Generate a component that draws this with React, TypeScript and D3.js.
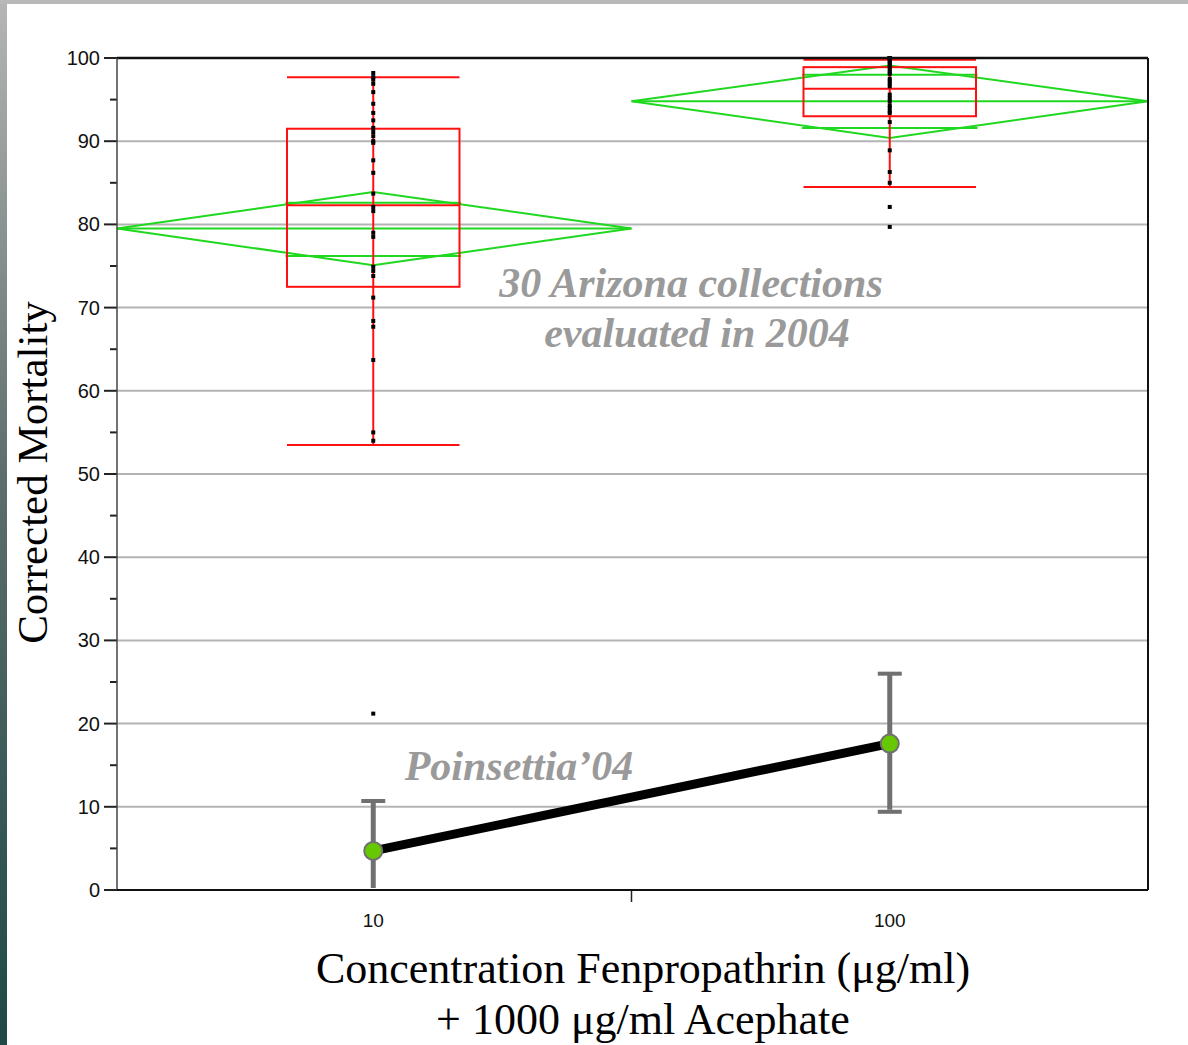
import React, { useEffect, useRef } from 'react';
import * as d3 from 'd3';

// concentration groups (fenpropathrin ug/ml)
const groups = ['10', '100'];
const yTicks = [0, 10, 20, 30, 40, 50, 60, 70, 80, 90, 100];
const yMinorTicks = [5, 15, 25, 35, 45, 55, 65, 75, 85, 95];

// 30 Arizona collections, corrected mortality
const dots10 = [98.2, 97.7, 97.4, 96.9, 95.9, 94.5, 93.4, 92.5, 91.6, 91.1, 90.6, 90.0, 89.8, 87.7, 86.2,
  83.7, 82.1, 81.6, 79.0, 78.5, 74.9, 74.4, 73.8, 71.2, 68.4, 67.7, 63.7, 55.0, 54.0, 21.2];
const dots100 = [100, 100, 100, 100, 100, 99.8, 99.6, 99.4, 99.2, 98.9, 98.6, 98.3, 98.1, 97.5, 97.2,
  96.9, 96.6, 95.6, 95.2, 94.8, 94.3, 94.0, 93.6, 93.4, 92.3, 88.9, 86.3, 85.0, 82.1, 79.7];

// box plot summary
const boxQ1 = [72.5, 93.0];
const boxMedian = [82.3, 96.3];
const boxQ3 = [91.5, 98.9];
const whiskerLow = [53.5, 84.5];
const whiskerHigh = [97.7, 99.8];

// means diamonds
const meanVals = [79.5, 94.8];
const ciLow = [75.1, 90.4];
const ciHigh = [83.9, 99.1];
const overlapLow = [76.2, 91.6];
const overlapHigh = [82.6, 98.0];

// Poinsettia'04 reference line
const poinMean = [4.7, 17.6];
const poinLow = [0, 9.4];
const poinHigh = [10.7, 26.0];

const W = 1188;
const H = 1045;

const App = () => {
  const svgRef = useRef<SVGSVGElement>(null);

  useEffect(() => {
    const svg = d3.select(svgRef.current);
    svg.selectAll('*').remove();

    const left = 117, right = 1148, top = 58, bottom = 890;

    const x = d3.scaleBand<string>().domain(groups).range([left - 2, right]).padding(0);
    const y = d3.scaleLinear().domain([0, 100]).range([bottom, top]);
    const bw = x.bandwidth();
    const cx = (i: number) => (x(groups[i]) as number) + bw / 2;

    // page decoration
    const defs = svg.append('defs');
    const grad = defs.append('linearGradient').attr('id', 'edge').attr('x1', 0).attr('x2', 0).attr('y1', 0).attr('y2', 1);
    grad.append('stop').attr('offset', '0%').attr('stop-color', '#b4b6b5');
    grad.append('stop').attr('offset', '45%').attr('stop-color', '#5e6e6c');
    grad.append('stop').attr('offset', '100%').attr('stop-color', '#1d4946');
    svg.append('rect').attr('width', W).attr('height', H).attr('fill', '#fff');
    svg.append('rect').attr('x', 0).attr('y', 0).attr('width', 7).attr('height', H).attr('fill', 'url(#edge)');
    svg.append('rect').attr('x', 0).attr('y', 0).attr('width', W).attr('height', 4).attr('fill', '#b7b8b7');

    // gridlines
    svg.append('g')
      .selectAll('line')
      .data(yTicks.filter(d => d > 0 && d < 100))
      .enter().append('line')
      .attr('x1', left).attr('x2', right)
      .attr('y1', d => y(d)).attr('y2', d => y(d))
      .attr('stroke', '#b4b4b4').attr('stroke-width', 2);

    // y axis ticks
    const ya = svg.append('g');
    ya.selectAll('.maj').data(yTicks).enter().append('line')
      .attr('x1', left - 13).attr('x2', left).attr('y1', d => y(d)).attr('y2', d => y(d))
      .attr('stroke', '#222').attr('stroke-width', 2);
    ya.selectAll('.min').data(yMinorTicks).enter().append('line')
      .attr('x1', left - 7).attr('x2', left).attr('y1', d => y(d)).attr('y2', d => y(d))
      .attr('stroke', '#222').attr('stroke-width', 2);
    ya.selectAll('text').data(yTicks).enter().append('text')
      .attr('x', left - 17).attr('y', d => y(d) + 7)
      .attr('text-anchor', 'end')
      .attr('font-family', 'Liberation Sans, Arial, sans-serif')
      .attr('font-size', 20)
      .attr('fill', '#111')
      .text(d => d);

    // x axis ticks / labels
    const xa = svg.append('g');
    xa.selectAll('line').data(groups.slice(1)).enter().append('line')
      .attr('x1', d => x(d) as number).attr('x2', d => x(d) as number)
      .attr('y1', bottom).attr('y2', bottom + 12)
      .attr('stroke', '#222').attr('stroke-width', 1.5);
    xa.selectAll('text').data(groups).enter().append('text')
      .attr('x', (d, i) => cx(i)).attr('y', bottom + 37)
      .attr('text-anchor', 'middle')
      .attr('font-family', 'Liberation Sans, Arial, sans-serif')
      .attr('font-size', 19)
      .attr('fill', '#111')
      .text(d => d);

    // means diamonds
    const green = '#1fd81f';
    const dg = svg.append('g').attr('fill', 'none').attr('stroke', green).attr('stroke-width', 2);
    groups.forEach((g, i) => {
      const x0 = Math.max(x(g) as number, left);
      const x1 = (x(g) as number) + bw;
      const c = cx(i);
      dg.append('path')
        .attr('d', `M${x0},${y(meanVals[i])}L${c},${y(ciHigh[i])}L${x1},${y(meanVals[i])}L${c},${y(ciLow[i])}Z`);
      dg.append('line').attr('x1', x0).attr('x2', x1).attr('y1', y(meanVals[i])).attr('y2', y(meanVals[i]));
      [overlapLow[i], overlapHigh[i]].forEach(v => {
        dg.append('line').attr('x1', c - bw * 0.17).attr('x2', c + bw * 0.17).attr('y1', y(v)).attr('y2', y(v));
      });
    });

    // box plots
    const bg = svg.append('g').attr('fill', 'none').attr('stroke', '#ff1010').attr('stroke-width', 2);
    const boxW = bw * 0.334;
    groups.forEach((g, i) => {
      const c = cx(i);
      bg.append('line').attr('x1', c).attr('x2', c).attr('y1', y(whiskerHigh[i])).attr('y2', y(whiskerLow[i]));
      bg.append('rect')
        .attr('x', c - boxW / 2).attr('width', boxW)
        .attr('y', y(boxQ3[i])).attr('height', y(boxQ1[i]) - y(boxQ3[i]))
        .attr('fill', 'none');
      [boxMedian[i], whiskerLow[i], whiskerHigh[i]].forEach(v => {
        bg.append('line').attr('x1', c - boxW / 2).attr('x2', c + boxW / 2).attr('y1', y(v)).attr('y2', y(v));
      });
    });

    // data points
    [dots10, dots100].forEach((arr, i) => {
      svg.append('g').selectAll('rect').data(arr).enter().append('rect')
        .attr('x', cx(i) - 2).attr('y', d => y(d) - 2)
        .attr('width', 4).attr('height', 4)
        .attr('fill', '#000');
    });

    // frame
    svg.append('line').attr('x1', left).attr('x2', right).attr('y1', top).attr('y2', top).attr('stroke', '#111').attr('stroke-width', 2.5);
    svg.append('line').attr('x1', right).attr('x2', right).attr('y1', top).attr('y2', bottom).attr('stroke', '#111').attr('stroke-width', 2);
    svg.append('line').attr('x1', left).attr('x2', left).attr('y1', top).attr('y2', bottom).attr('stroke', '#444').attr('stroke-width', 1.5);
    svg.append('line').attr('x1', left).attr('x2', right).attr('y1', bottom).attr('y2', bottom).attr('stroke', '#111').attr('stroke-width', 2);

    // Poinsettia line with error bars
    const pg = svg.append('g');
    groups.forEach((g, i) => {
      const c = cx(i);
      pg.append('line').attr('x1', c).attr('x2', c).attr('y1', y(poinHigh[i])).attr('y2', y(poinLow[i]) - 2)
        .attr('stroke', '#707070').attr('stroke-width', 5);
      pg.append('line').attr('x1', c - 12).attr('x2', c + 12).attr('y1', y(poinHigh[i])).attr('y2', y(poinHigh[i]))
        .attr('stroke', '#707070').attr('stroke-width', 4);
      if (poinLow[i] > 0) {
        pg.append('line').attr('x1', c - 12).attr('x2', c + 12).attr('y1', y(poinLow[i])).attr('y2', y(poinLow[i]))
          .attr('stroke', '#707070').attr('stroke-width', 4);
      }
    });
    const line = d3.line<number>().x((d, i) => cx(i)).y(d => y(d));
    pg.append('path').datum(poinMean).attr('d', line).attr('fill', 'none').attr('stroke', '#000').attr('stroke-width', 9);
    pg.selectAll('circle').data(poinMean).enter().append('circle')
      .attr('cx', (d, i) => cx(i)).attr('cy', d => y(d)).attr('r', 9)
      .attr('fill', '#66c800').attr('stroke', '#707070').attr('stroke-width', 2);

    // annotations
    const ann = svg.append('g')
      .attr('font-family', 'Liberation Serif, Times New Roman, serif')
      .attr('font-style', 'italic').attr('font-weight', 'bold')
      .attr('font-size', 42).attr('fill', '#9a9a9a').attr('text-anchor', 'middle');
    ann.append('text').attr('x', 691).attr('y', 297).text('30 Arizona collections');
    ann.append('text').attr('x', 697).attr('y', 347).text('evaluated in 2004');
    ann.append('text').attr('x', 519).attr('y', 780).text('Poinsettia\u201904');

    // axis titles
    svg.append('text')
      .attr('transform', `translate(47,${(300 + 645) / 2}) rotate(-90)`)
      .attr('text-anchor', 'middle')
      .attr('font-family', 'Liberation Serif, Times New Roman, serif')
      .attr('font-size', 43).attr('fill', '#000')
      .text('Corrected Mortality');
    const xt = svg.append('g')
      .attr('font-family', 'Liberation Serif, Times New Roman, serif')
      .attr('font-size', 44).attr('fill', '#000').attr('text-anchor', 'middle');
    xt.append('text').attr('x', 643).attr('y', 983).text('Concentration Fenpropathrin (\u03bcg/ml)');
    xt.append('text').attr('x', 643).attr('y', 1034).text('+ 1000 \u03bcg/ml Acephate');
  }, []);

  return (
    <svg ref={svgRef} width={W} height={H}
      style={{ position: 'absolute', left: 0, top: 0, display: 'block' }} />
  );
};

export default App;
